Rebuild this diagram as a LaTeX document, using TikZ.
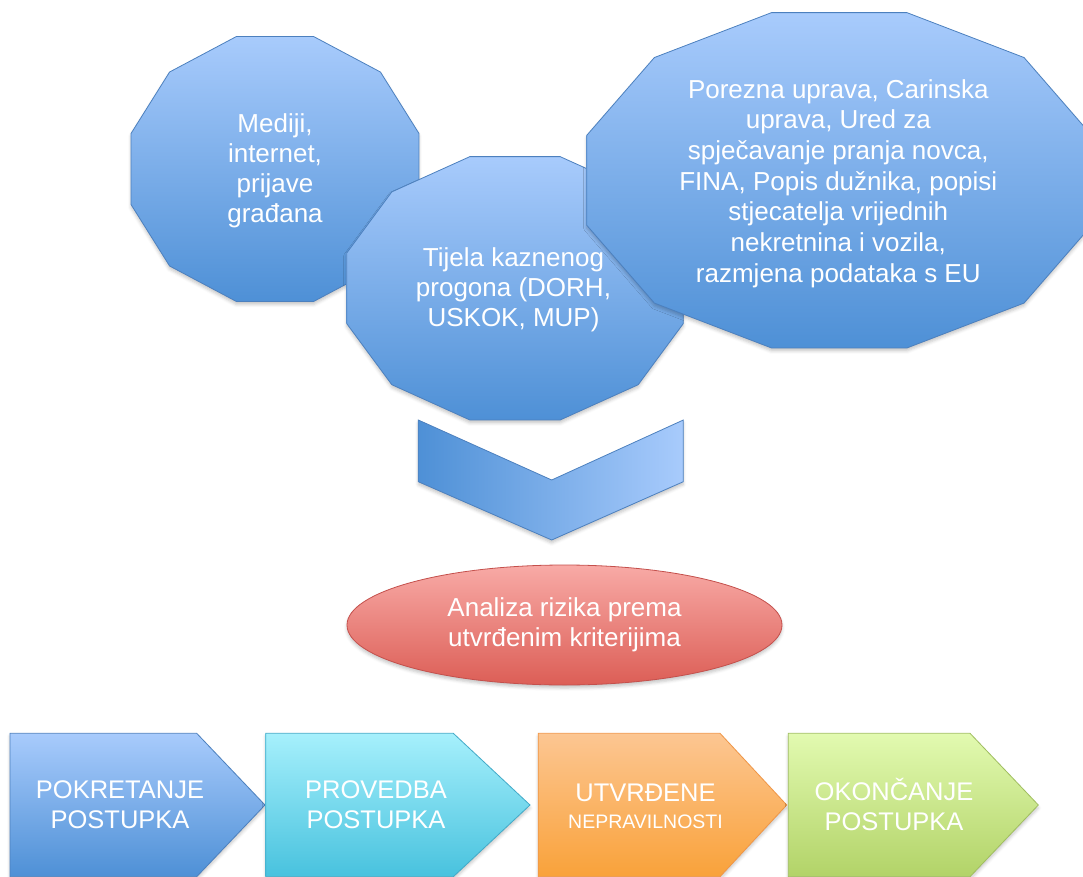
\documentclass[tikz,border=0pt]{standalone}
\usepackage{fontspec}
\setmainfont{Liberation Sans}
\usetikzlibrary{shapes.geometric,shadows.blur}
\definecolor{blueL}{RGB}{168,203,252}
\definecolor{blueD}{RGB}{78,144,214}
\definecolor{blueO}{RGB}{76,128,190}
\definecolor{redL}{RGB}{248,170,166}
\definecolor{redD}{RGB}{220,94,86}
\definecolor{redO}{RGB}{196,80,76}
\definecolor{cyanL}{RGB}{166,240,252}
\definecolor{cyanD}{RGB}{72,194,222}
\definecolor{cyanO}{RGB}{66,170,200}
\definecolor{orL}{RGB}{252,198,146}
\definecolor{orD}{RGB}{249,162,58}
\definecolor{orO}{RGB}{240,150,70}
\definecolor{grL}{RGB}{226,250,176}
\definecolor{grD}{RGB}{178,211,104}
\definecolor{grO}{RGB}{160,190,95}
\newcommand\mydodec[5]{%
  \path[#1] plot[samples at={15,45,...,345}]
    ({#2+#4/0.965926*cos(\x)},{#3+#5/0.965926*sin(\x)}) -- cycle;}
\tikzset{
  shp/.style={line width=0.8pt, line join=miter},
  shad/.style={blur shadow={shadow blur radius=3pt, shadow xshift=0pt,
      shadow yshift=-3pt, shadow opacity=22}},
  blueshp/.style={shp, draw=blueO, top color=blueL, bottom color=blueD},
  txt/.style={text=white, align=center, inner sep=0pt,
      font=\fontsize{26}{30}\selectfont},
  boxtxt/.style={txt, font=\fontsize{25.5}{30}\selectfont},
}
\begin{document}
\begin{tikzpicture}[x=1pt,y=-1pt]
\useasboundingbox (0,0) rectangle (1083,877);
\clip (0,0) rectangle (1083,877);
% three dodecagons
\mydodec{blueshp,shad}{275}{169}{144}{132.5}
\node[txt] (mediji) at (275,170.5) {Mediji,\\internet,\\prijave\\građana};
\mydodec{blueshp,shad}{515}{288.3}{168.3}{131.7}
\node[txt] (tijela) at (513.5,290) {Tijela kaznenog\\progona (DORH,\\USKOK, MUP)};
\mydodec{blueshp,shad}{839.2}{180.3}{252.5}{167.7}
\node[txt, font=\fontsize{26}{30.7}\selectfont] (porezna) at (838.3,183.5)
  {Porezna uprava, Carinska\\uprava, Ured za\\spječavanje pranja novca,\\FINA, Popis dužnika, popisi\\stjecatelja vrijednih\\nekretnina i vozila,\\razmjena podataka s EU};
% chevron
\path[shp, shad, draw=blueO, left color=blueD, right color=blueL]
  (418.3,420) -- (551.7,480) -- (683.3,420) -- (683.3,481.7)
  -- (551.7,540) -- (418.3,481.7) -- cycle;
% ellipse
\node[ellipse, shp, shad, draw=redO, top color=redL, bottom color=redD,
  minimum width=435, minimum height=120, inner sep=0pt] (analiza) at (564.5,625) {};
\node[txt] (analizatxt) at (564.5,625) {Analiza rizika prema\\utvrđenim kriterijima};
% bottom process boxes
\path[shp, shad, draw=blueO, top color=blueL, bottom color=blueD]
  (10,733.3) -- (196.7,733.3) -- (265,805) -- (196.7,876.7) -- (10,876.7) -- cycle;
\path[shp, shad, draw=cyanO, top color=cyanL, bottom color=cyanD]
  (265.7,733.3) -- (453.3,733.3) -- (530,805) -- (453.3,876.7) -- (265.7,876.7) -- cycle;
\path[shp, shad, draw=orO, top color=orL, bottom color=orD]
  (538.3,733.3) -- (720,733.3) -- (786.7,805) -- (720,876.7) -- (538.3,876.7) -- cycle;
\path[shp, shad, draw=grO, top color=grL, bottom color=grD]
  (788.3,733.3) -- (970,733.3) -- (1038.3,805) -- (970,876.7) -- (788.3,876.7) -- cycle;
\node[boxtxt] (pokretanje) at (120,805) {POKRETANJE\\POSTUPKA};
\node[boxtxt] (provedba) at (376,805) {PROVEDBA\\POSTUPKA};
\node[boxtxt, anchor=base] (utvrdene) at (645.5,801.7) {UTVRĐENE};
\node[txt, anchor=base, font=\fontsize{19.5}{23}\selectfont] (nepravilnosti) at (645.5,828.3) {NEPRAVILNOSTI};
\node[boxtxt] (okoncanje) at (894,804) {OKONČANJE\\POSTUPKA};
\end{tikzpicture}
\end{document}
